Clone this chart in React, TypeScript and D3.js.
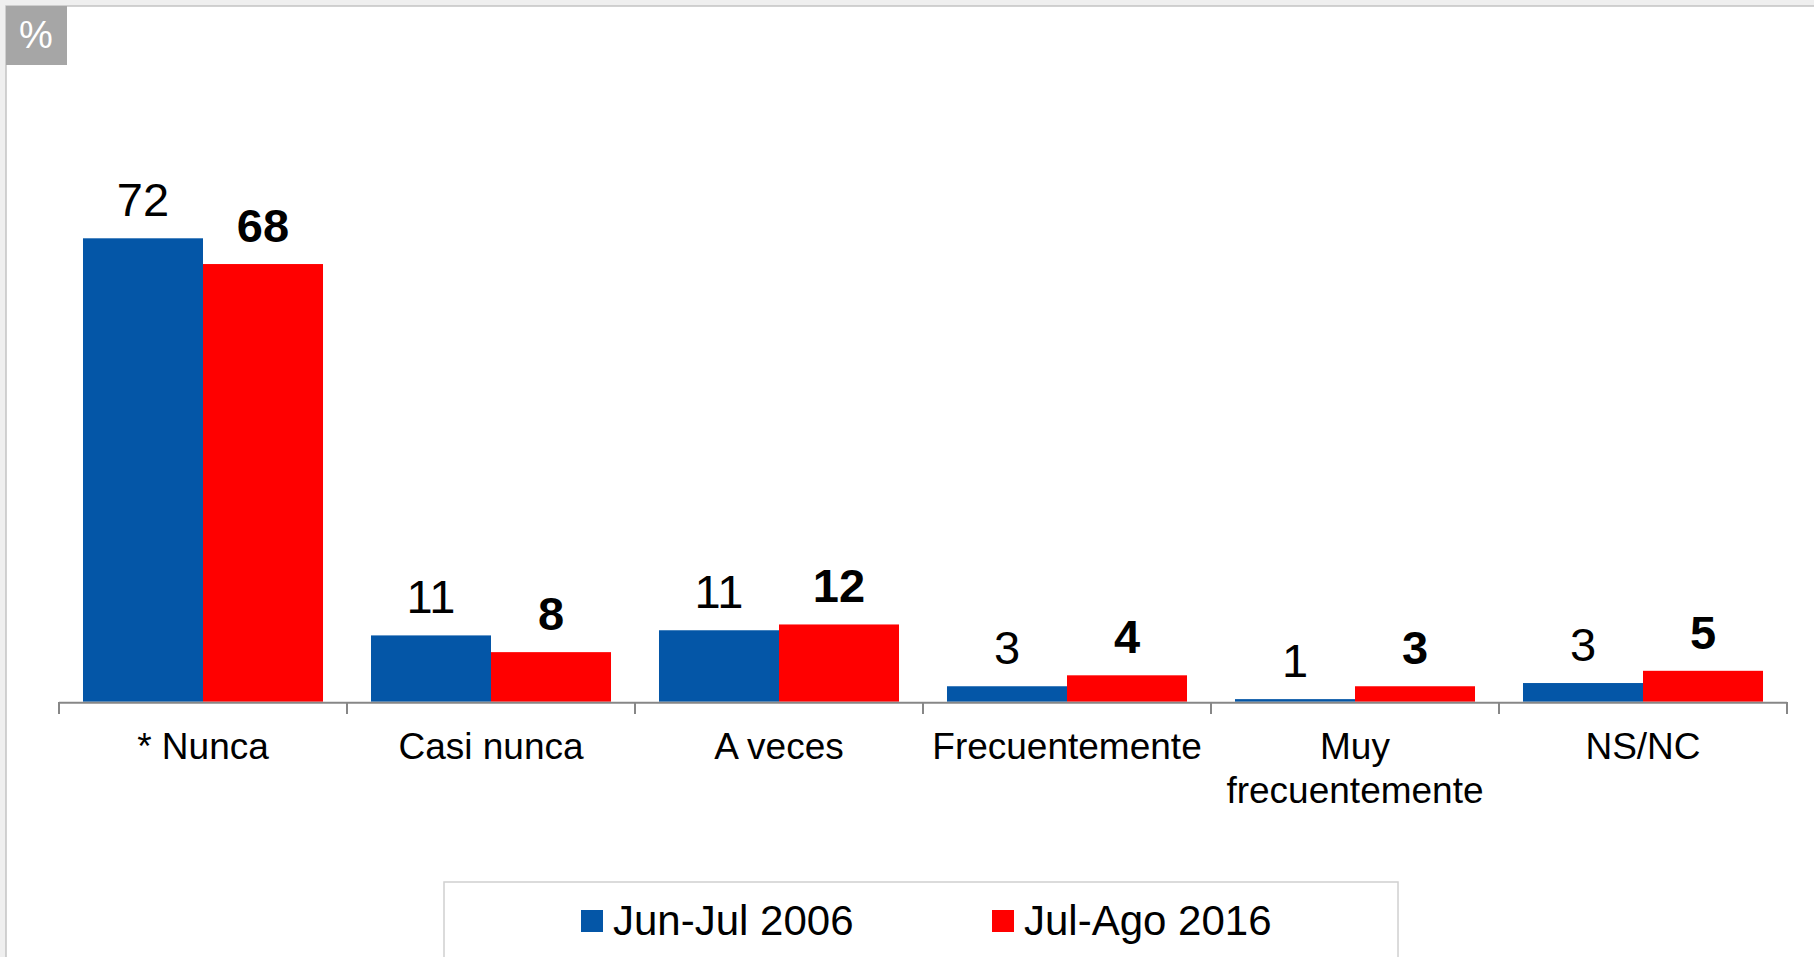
import React from "react";
import * as d3 from "d3";

const categories: string[][] = [
  ["* Nunca"],
  ["Casi nunca"],
  ["A veces"],
  ["Frecuentemente"],
  ["Muy", "frecuentemente"],
  ["NS/NC"],
];
const seriesNames = ["Jun-Jul 2006", "Jul-Ago 2016"];
// bar heights
const values2006 = [72, 10.3, 11.1, 2.4, 0.4, 2.9];
const values2016 = [68, 7.7, 12.0, 4.1, 2.4, 4.8];
// printed data labels
const labels2006 = ["72", "11", "11", "3", "1", "3"];
const labels2016 = ["68", "8", "12", "4", "3", "5"];
const colors = ["#0456A7", "#FF0000"];

const W = 1814;
const H = 957;
const FONT = "'Liberation Sans', Arial, Helvetica, sans-serif";

export default function App() {
  const keys = categories.map((c) => c.join(" "));
  const x0 = d3.scaleBand<string>().domain(keys).range([59, 1787]).padding(0);
  const bw = x0.bandwidth();
  const x1 = d3
    .scaleBand<string>()
    .domain(seriesNames)
    .range([bw * 0.0833, bw * (1 - 0.0833)])
    .padding(0);
  const y = d3.scaleLinear().domain([0, 72]).range([701.7, 238.3]);
  const series = [
    { name: seriesNames[0], values: values2006, labels: labels2006, color: colors[0], bold: false },
    { name: seriesNames[1], values: values2016, labels: labels2016, color: colors[1], bold: true },
  ];
  const tickXs = keys.map((k) => x0(k)!).concat([x0.range()[1]]);

  return (
    <svg
      width={W}
      height={H}
      style={{ position: "absolute", left: 0, top: 0, display: "block" }}
      fontFamily={FONT}
    >
      <rect x={0} y={0} width={W} height={H} fill="#efefef" />
      <rect x={6} y={6} width={W} height={H} fill="#ffffff" stroke="#c4c4c4" strokeWidth={1.5} />
      <rect x={6} y={6} width={61} height={59} fill="#a6a6a6" />
      <text x={36} y={48} textAnchor="middle" fill="#ffffff" fontSize={38}>
        %
      </text>

      {series.map((s) =>
        keys.map((k, i) => {
          const bx = x0(k)! + x1(s.name)!;
          const by = y(s.values[i]);
          return (
            <g key={s.name + k}>
              <rect x={bx} y={by} width={x1.bandwidth()} height={y(0) - by} fill={s.color} />
              <text
                x={bx + x1.bandwidth() / 2}
                y={by - 22}
                textAnchor="middle"
                fontSize={47}
                fontWeight={s.bold ? "bold" : "normal"}
                fill="#000"
              >
                {s.labels[i]}
              </text>
            </g>
          );
        })
      )}

      <line x1={59} x2={1787} y1={702.7} y2={702.7} stroke="#878787" strokeWidth={2} />
      {tickXs.map((tx, i) => (
        <line key={i} x1={tx} x2={tx} y1={702} y2={714} stroke="#878787" strokeWidth={2} />
      ))}

      {categories.map((lines, i) => (
        <text
          key={i}
          x={x0(keys[i])! + bw / 2}
          y={759}
          textAnchor="middle"
          fontSize={37}
          fill="#000"
        >
          {lines.map((ln, j) => (
            <tspan key={j} x={x0(keys[i])! + bw / 2} dy={j === 0 ? 0 : 43.5}>
              {ln}
            </tspan>
          ))}
        </text>
      ))}

      <rect x={444} y={882} width={954} height={120} fill="#ffffff" stroke="#d0d0d0" strokeWidth={1.5} />
      {series.map((s, i) => {
        const lx = [581, 992][i];
        return (
          <g key={s.name}>
            <rect x={lx} y={910} width={22} height={22} fill={s.color} />
            <text x={lx + 32} y={935} fontSize={42} fill="#000">
              {s.name}
            </text>
          </g>
        );
      })}
    </svg>
  );
}
